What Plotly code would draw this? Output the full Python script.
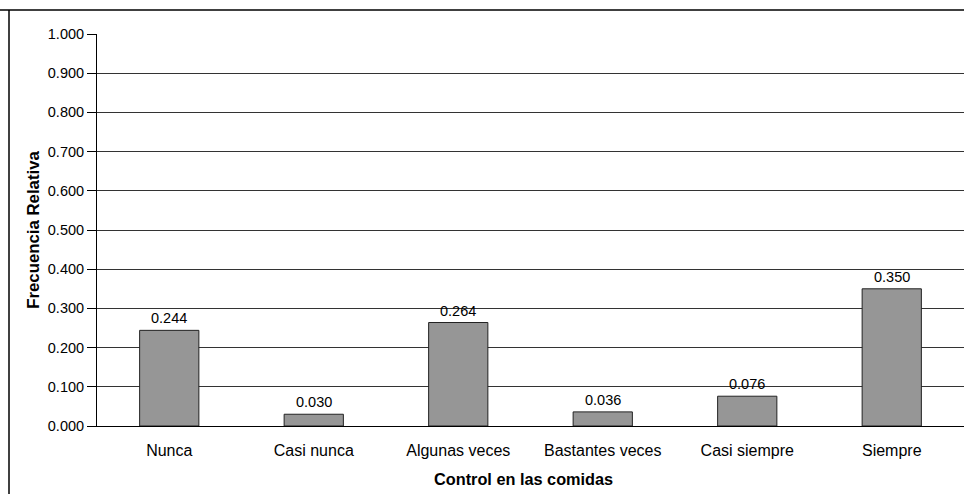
import plotly.graph_objects as go

categories = ["Nunca", "Casi nunca", "Algunas veces", "Bastantes veces", "Casi siempre", "Siempre"]
values = [0.244, 0.030, 0.264, 0.036, 0.076, 0.350]
tick_vals = [0.0, 0.1, 0.2, 0.3, 0.4, 0.5, 0.6, 0.7, 0.8, 0.9, 1.0]
tick_text = ["0.000", "0.100", "0.200", "0.300", "0.400", "0.500", "0.600", "0.700", "0.800", "0.900", "1.000"]
x_title = "Control en las comidas"
y_title = "Frecuencia Relativa"

FONT = "Liberation Sans, Arial"

fig = go.Figure(go.Bar(
    x=categories, y=values,
    marker=dict(color="#969696", line=dict(color="#222222", width=1)),
    cliponaxis=False,
))

annotations = [
    dict(x=c, y=v, xref="x", yref="y", text=f"{v:.3f}", showarrow=False,
         yanchor="bottom", yshift=2, font=dict(family=FONT, size=14.5, color="#000000"))
    for c, v in zip(categories, values)
]
annotations.append(dict(
    x=0.5, y=-(478.5 - 426) / 392, xref="paper", yref="paper", xshift=-7,
    text=f"<b>{x_title}</b>", showarrow=False, yanchor="middle", xanchor="center",
    font=dict(family=FONT, size=16.3, color="#000000"),
))

fig.update_layout(
    width=964, height=494,
    margin=dict(l=97, r=0, t=34, b=68),
    paper_bgcolor="white", plot_bgcolor="white",
    bargap=0.59,
    showlegend=False,
    font=dict(family=FONT, size=14.5, color="#000000"),
    xaxis=dict(
        showline=True, linecolor="#000000", linewidth=1,
        ticks="", tickfont=dict(size=16), showgrid=False,
        ticklabelstandoff=10,
    ),
    yaxis=dict(
        title=dict(text=f"<b>{y_title}</b>", font=dict(size=16.8), standoff=3),
        range=[0, 1.0], tickvals=tick_vals, ticktext=tick_text,
        showline=True, linecolor="#000000", linewidth=1,
        ticks="outside", ticklen=9, tickcolor="#000000",
        showgrid=True, gridcolor="#333333", gridwidth=1,
        tickfont=dict(size=14.5), zeroline=False,
    ),
    annotations=annotations,
    shapes=[
        dict(type="line", xref="paper", yref="paper", x0=-97/867, x1=1.0,
             y0=1 + 24/392, y1=1 + 24/392, line=dict(color="#000000", width=1.5)),
        dict(type="line", xref="paper", yref="paper", x0=-88/867, x1=-88/867,
             y0=1 + 24/392, y1=-70/392, line=dict(color="#000000", width=1.5)),
    ],
)

fig.write_html("out.html", config={"displayModeBar": False},
               post_script="document.body.style.margin='0';document.body.style.overflow='hidden';")
